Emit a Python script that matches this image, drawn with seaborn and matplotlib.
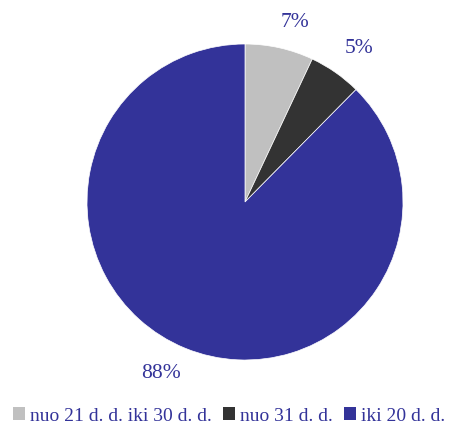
import matplotlib
matplotlib.use("Agg")
import matplotlib.pyplot as plt
import seaborn as sns
import numpy as np
from matplotlib.patches import Patch

categories = ["nuo 21 d. d. iki 30 d. d.", "nuo 31 d. d.", "iki 20 d. d."]
values = [7.0, 5.4, 87.6]
labels = ["7%", "5%", "88%"]
colors = ["#C0C0C0", "#333333", "#333399"]
text_color = "#333399"

sns.set_theme(style="white")
plt.rcParams["font.family"] = ["Liberation Serif", "DejaVu Serif"]

fig = plt.figure(figsize=(4.52, 4.26), dpi=100)
ax = fig.add_axes([87 / 452, 66 / 426, 316 / 452, 316 / 426])
wedges, texts = ax.pie(values, colors=colors, startangle=90, counterclock=False,
                       labels=labels, labeldistance=1.2,
                       wedgeprops=dict(linewidth=0.5, edgecolor="white"),
                       textprops=dict(color=text_color, fontsize=15.5))
# fine-tune label placement around each wedge's mid angle
angle_shift = [-3.0, -1.6, -3.7]
radius = [1.18, 1.21, 1.21]
for w, t, da, r in zip(wedges, texts, angle_shift, radius):
    mid = np.deg2rad((w.theta1 + w.theta2) / 2 + da)
    t.set_position((r * np.cos(mid), r * np.sin(mid)))
    t.set_ha("center")
    t.set_va("center")
ax.set_xlim(-1, 1)
ax.set_ylim(-1, 1)
ax.set_aspect("equal")
ax.axis("off")

handles = [Patch(facecolor=c, edgecolor="none") for c in colors]
leg = fig.legend(handles, categories, loc="center left", bbox_to_anchor=(13 / 452, 1 - 416 / 426),
                 ncol=3, frameon=False, fontsize=14, handlelength=0.6, handleheight=0.6,
                 handletextpad=0.3, columnspacing=0.55, borderaxespad=0, borderpad=0)
for t in leg.get_texts():
    t.set_color(text_color)

fig.savefig("out.png", dpi=100)
